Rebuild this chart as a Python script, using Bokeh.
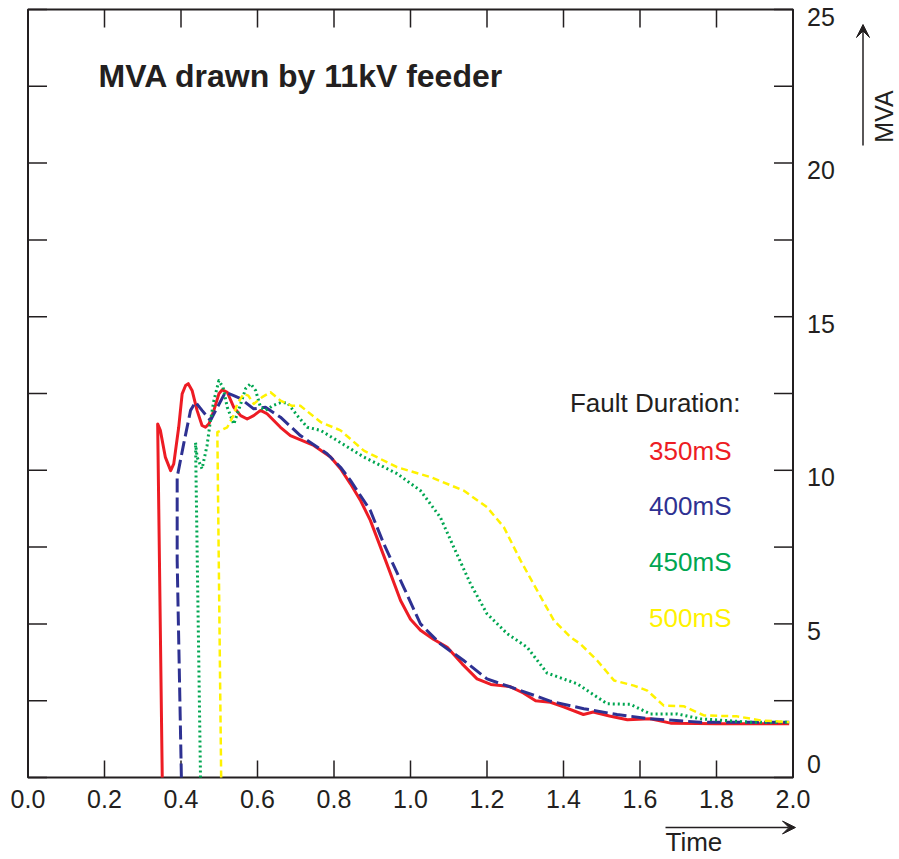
import math
from bokeh.plotting import figure
from bokeh.models import ColumnDataSource, Range1d, Arrow, VeeHead
from bokeh.embed import file_html
from bokeh.resources import INLINE
from bokeh.core.properties import value

FONT = "Liberation Sans"
TXT = "#231f20"

# ---------------- data ----------------
x_tick_labels = ["0.0", "0.2", "0.4", "0.6", "0.8", "1.0", "1.2", "1.4", "1.6", "1.8", "2.0"]
y_ticks_all = [0, 2.5, 5, 7.5, 10, 12.5, 15, 17.5, 20, 22.5, 25]
y_tick_labels = ["0", "5", "10", "15", "20", "25"]

series_names = ["350mS", "400mS", "450mS", "500mS"]
series_colors = ["#ED1C24", "#2E3192", "#00A651", "#FFF200"]

t_350 = [0.351, 0.339, 0.346, 0.359, 0.373, 0.381, 0.394, 0.403, 0.412, 0.419, 0.429, 0.442,
         0.455, 0.464, 0.473, 0.486, 0.499, 0.508, 0.521, 0.538, 0.556, 0.573, 0.590, 0.608,
         0.625, 0.660, 0.686, 0.747, 0.791, 0.817, 0.843, 0.870, 0.895, 0.935, 0.974, 1.000,
         1.026, 1.060, 1.096, 1.135, 1.174, 1.210, 1.260, 1.295, 1.327, 1.366, 1.400, 1.452,
         1.478, 1.520, 1.567, 1.627, 1.680, 1.750, 1.800, 1.900, 1.990]
mva_350 = [0.0, 11.51, 11.30, 10.43, 9.99, 10.21, 11.40, 12.49, 12.76, 12.82, 12.60, 11.95,
           11.46, 11.40, 11.51, 11.95, 12.49, 12.62, 12.54, 12.05, 11.78, 11.67, 11.78, 11.95,
           11.84, 11.40, 11.13, 10.81, 10.43, 10.05, 9.56, 9.00, 8.37, 7.06, 5.76, 5.15,
           4.79, 4.50, 4.24, 3.70, 3.21, 3.03, 2.96, 2.75, 2.50, 2.45, 2.30, 2.05,
           2.13, 2.00, 1.88, 1.91, 1.77, 1.76, 1.75, 1.75, 1.75]

t_400 = [0.401, 0.390, 0.390, 0.407, 0.425, 0.438, 0.455, 0.477, 0.495, 0.516, 0.538, 0.556,
         0.590, 0.621, 0.660, 0.712, 0.782, 0.817, 0.843, 0.895, 0.930, 0.982, 1.026, 1.078,
         1.139, 1.200, 1.288, 1.367, 1.453, 1.540, 1.627, 1.758, 1.889, 1.990]
mva_400 = [0.0, 7.06, 9.78, 10.86, 11.95, 12.22, 11.95, 11.62, 12.05, 12.54, 12.43, 12.33,
           12.00, 12.05, 11.73, 11.13, 10.54, 10.10, 9.67, 8.69, 7.61, 6.20, 5.00, 4.35,
           3.81, 3.21, 2.83, 2.48, 2.24, 2.05, 1.91, 1.80, 1.80, 1.80]

t_450 = [0.451, 0.438, 0.442, 0.455, 0.468, 0.477, 0.486, 0.499, 0.510, 0.521, 0.538, 0.556,
         0.569, 0.582, 0.595, 0.608, 0.621, 0.639, 0.660, 0.678, 0.704, 0.730, 0.765, 0.808,
         0.878, 0.965, 1.026, 1.078, 1.113, 1.157, 1.200, 1.253, 1.305, 1.357, 1.436, 1.514,
         1.575, 1.627, 1.697, 1.758, 1.889, 1.990]
mva_450 = [0.0, 10.90, 10.43, 10.05, 10.80, 11.62, 12.27, 12.92, 12.70, 12.05, 11.50, 12.16,
           12.66, 12.82, 12.60, 12.05, 11.95, 12.10, 12.20, 12.20, 11.78, 11.40, 11.30, 10.97,
           10.43, 9.89, 9.34, 8.47, 7.50, 6.30, 5.33, 4.68, 4.24, 3.40, 3.05, 2.40,
           2.38, 2.07, 2.07, 1.91, 1.80, 1.80]

t_500 = [0.505, 0.495, 0.521, 0.537, 0.547, 0.564, 0.576, 0.590, 0.612, 0.634, 0.660, 0.690,
         0.712, 0.765, 0.817, 0.878, 0.965, 1.052, 1.139, 1.200, 1.244, 1.288, 1.331, 1.375,
         1.418, 1.444, 1.488, 1.532, 1.584, 1.619, 1.662, 1.714, 1.767, 1.854, 1.915, 1.990]
mva_500 = [0.0, 11.24, 11.40, 11.78, 12.16, 12.49, 12.43, 12.16, 12.38, 12.54, 12.27, 12.10,
           12.10, 11.57, 11.30, 10.64, 10.10, 9.78, 9.34, 8.80, 8.15, 7.06, 6.09, 5.11,
           4.57, 4.35, 3.81, 3.16, 2.99, 2.83, 2.34, 2.32, 2.02, 1.99, 1.86, 1.80]

series_t = [t_350, t_400, t_450, t_500]
series_v = [mva_350, mva_400, mva_450, mva_500]

# ---------------- layout (pixels) ----------------
W, H = 896, 856
BOX_L, BOX_R, BOX_T, BOX_B = 27.5, 792.5, 9.0, 777.0
X_MIN, X_MAX, Y_MIN, Y_MAX = 0.0, 2.0, 0.0, 25.0
SX = (BOX_R - BOX_L) / (X_MAX - X_MIN)
SY = (BOX_B - BOX_T) / (Y_MAX - Y_MIN)


def px2x(px):
    return X_MIN + (px - BOX_L) / SX


def py2y(py):
    return Y_MIN + (BOX_B - py) / SY


series_dash = ["solid", "14 5", "2 3", "7 4"]
series_width = [3, 3, 3, 2.5]

p = figure(width=W, height=H,
           x_range=Range1d(px2x(0), px2x(W)), y_range=Range1d(py2y(H), py2y(0)),
           x_axis_location=None, y_axis_location=None,
           output_backend="svg", toolbar_location=None,
           min_border=0, outline_line_color=None,
           background_fill_color="white", border_fill_color="white")
p.grid.visible = False

x_ticks = [float(s) for s in x_tick_labels]
y_label_vals = [float(s) for s in y_tick_labels]

# axes box
p.quad(left=X_MIN, right=X_MAX, bottom=Y_MIN, top=Y_MAX, fill_color=None,
       line_color=TXT, line_width=2)

# inward ticks
tick_kw = dict(length_units="screen", line_color=TXT, line_width=1.5)
p.ray(x=x_ticks, y=[Y_MIN] * len(x_ticks), length=17, angle=math.pi / 2, **tick_kw)
p.ray(x=x_ticks, y=[Y_MAX] * len(x_ticks), length=18, angle=-math.pi / 2, **tick_kw)
p.ray(x=[X_MIN] * len(y_ticks_all), y=y_ticks_all, length=19, angle=0, **tick_kw)
p.ray(x=[X_MAX] * len(y_ticks_all), y=y_ticks_all, length=19, angle=math.pi, **tick_kw)

# tick labels
p.text(x=x_ticks, y=[Y_MIN] * len(x_ticks), text=x_tick_labels, y_offset=21,
       text_font=value(FONT), text_font_size="25px", text_color=TXT,
       text_align="center", text_baseline="middle")
p.text(x=[X_MAX] * len(y_label_vals), y=y_label_vals, text=y_tick_labels,
       x_offset=14, y_offset=[(-14 if v == Y_MIN else 7) for v in y_label_vals],
       text_font=value(FONT), text_font_size="25px", text_color=TXT,
       text_align="left", text_baseline="middle")

# ---------------- series ----------------
for t, v, c, d, w in zip(series_t, series_v, series_colors, series_dash, series_width):
    src = ColumnDataSource(dict(t=t, v=v))
    p.line("t", "v", source=src, line_color=c, line_width=w, line_dash=d,
           line_join="round", line_cap="butt")

# ---------------- texts ----------------
p.text(x=[px2x(98)], y=[py2y(75)], text=["MVA drawn by 11kV feeder"],
       text_font=value(FONT), text_font_size="32px", text_font_style="bold",
       text_color=TXT, text_align="left", text_baseline="alphabetic")

p.text(x=[px2x(740)], y=[py2y(402)], text=["Fault Duration:"],
       text_font=value(FONT), text_font_size="26px", text_color=TXT,
       text_align="right", text_baseline="middle")
leg_src = ColumnDataSource(dict(
    x=[px2x(731)] * len(series_names),
    y=[py2y(450 + 55.7 * i) for i in range(len(series_names))],
    text=series_names, color=series_colors))
p.text("x", "y", text="text", source=leg_src, text_color="color",
       text_font=value(FONT), text_font_size="26px",
       text_align="right", text_baseline="middle")

# axis names with arrows
p.text(x=[px2x(665)], y=[py2y(841)], text=["Time"], text_font=value(FONT),
       text_font_size="26px", text_color=TXT, text_align="left", text_baseline="middle")
p.add_layout(Arrow(x_start=px2x(665), y_start=py2y(827), x_end=px2x(795), y_end=py2y(827),
                   line_color=TXT, line_width=1.5,
                   end=VeeHead(size=13, fill_color=TXT, line_color=TXT)))

p.text(x=[px2x(883)], y=[py2y(116)], text=["MVA"], angle=math.pi / 2,
       text_font=value(FONT), text_font_size="25px", text_color=TXT,
       text_align="center", text_baseline="middle")
p.add_layout(Arrow(x_start=px2x(862.5), y_start=py2y(145), x_end=px2x(862.5), y_end=py2y(24),
                   line_color=TXT, line_width=1.5,
                   end=VeeHead(size=13, fill_color=TXT, line_color=TXT)))

open("out.html", "w").write(file_html(p, INLINE))
